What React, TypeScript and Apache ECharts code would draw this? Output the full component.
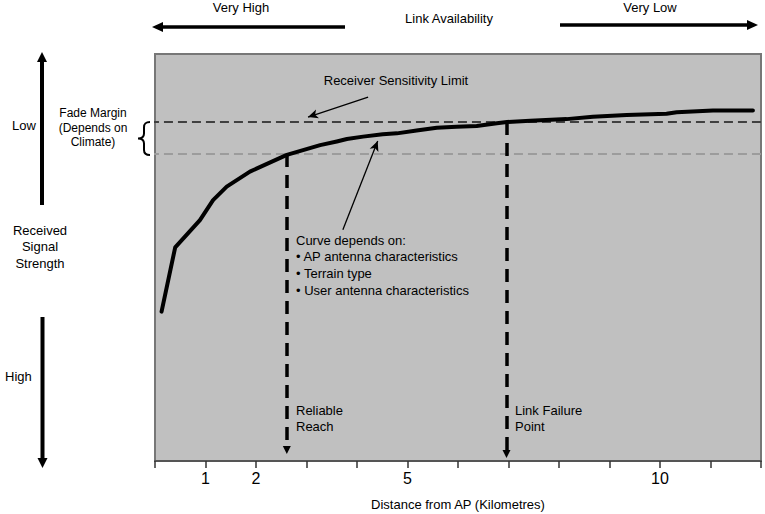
import React, { useEffect, useRef } from "react";
import * as echarts from "echarts";

// ---- data ----
const distanceKm = [0.13, 0.4, 0.89, 1.15, 1.42, 1.88, 2.61, 3.27, 3.6, 3.8, 4.12, 4.51, 4.79, 5.18, 5.58, 5.97, 6.37, 6.77, 6.97, 7.43, 8.15, 8.67, 9.34, 10.13, 10.33, 11.05, 11.84];
const signalLevel = [36.7, 52.5, 59.2, 64.1, 67.4, 71.1, 75.2, 77.6, 78.5, 79.1, 79.7, 80.3, 80.5, 81.2, 81.9, 82.1, 82.3, 83.0, 83.3, 83.6, 84.0, 84.6, 85.0, 85.3, 85.7, 86.1, 86.1];
const sensitivityLevel = 83.3;
const fadeLevel = 75.4;
const reliableReachKm = 2.61;
const linkFailureKm = 6.96;
const labeledKm = [1, 2, 5, 10];
const xMin = 0;
const xMax = 12;

const curveNotes = ["Curve depends on:", "\u2022 AP antenna characteristics", "\u2022 Terrain type", "\u2022 User antenna characteristics"];
const fadeNotes = ["Fade Margin", "(Depends on", "Climate)"];
const signalNotes = ["Received", "Signal", "Strength"];

const FONT = "'Liberation Sans', Arial, Helvetica, sans-serif";

let braceRegistered = false;
function registerBrace() {
  if (braceRegistered) return;
  braceRegistered = true;
  const d =
    "M150,122 C145.5,122 144,123.5 144,127.5 L144,133.5 C144,137 142.5,138.5 138,138.5 C142.5,138.5 144,140 144,143.5 L144,150 C144,153.5 145.5,155 150,155";
  echarts.graphic.registerShape("brace", echarts.graphic.extendPath(d, {}) as any);
}

function txt(text: string, x: number, y: number, align: string, size = 13): any {
  return {
    type: "text",
    x,
    y,
    silent: true,
    style: {
      text,
      fill: "#000",
      fontSize: size,
      fontFamily: FONT,
      align,
      verticalAlign: "middle",
      textAlign: align,
      textVerticalAlign: "middle",
    },
  };
}
function seg(x1: number, y1: number, x2: number, y2: number, w: number): any {
  return { type: "line", silent: true, shape: { x1, y1, x2, y2 }, style: { stroke: "#000", lineWidth: w } };
}
function tri(points: number[][]): any {
  return { type: "polygon", silent: true, shape: { points }, style: { fill: "#000" } };
}

export default function App() {
  const ref = useRef<HTMLDivElement>(null);
  useEffect(() => {
    if (!ref.current) return;
    registerBrace();
    const chart = echarts.init(ref.current, undefined, { renderer: "svg" });

    const graphic: any[] = [
      // top
      txt("Very High", 241, 7, "center"),
      seg(345, 27, 160, 27, 3.5),
      tri([[152, 27], [163, 22], [163, 32]]),
      txt("Link Availability", 449, 18, "center"),
      txt("Very Low", 650, 7, "center"),
      seg(560, 25, 749, 25, 3.5),
      tri([[758, 25], [747, 20], [747, 30]]),
      // left
      txt("Low", 12, 125, "left"),
      seg(42, 205, 42, 60, 4),
      tri([[42, 52], [37, 62], [47, 62]]),
      ...fadeNotes.map((t, i) => txt(t, 93, 113 + i * 14.5, "center", 12)),
      { type: "brace", silent: true, x: 0, y: 0, style: { stroke: "#000", fill: "none", lineWidth: 2 } },
      ...signalNotes.map((t, i) => txt(t, 40, 230 + i * 16.7, "center")),
      txt("High", 5, 376, "left"),
      seg(42.5, 317, 42.5, 460, 4),
      tri([[42.5, 468], [37.5, 458], [47.5, 458]]),
      // in-plot notes
      txt("Receiver Sensitivity Limit", 396, 80, "center"),
      ...curveNotes.map((t, i) => txt(t, 296, 240 + i * 16.7, "left")),
      txt("Reliable", 296, 410, "left"),
      txt("Reach", 296, 426, "left"),
      txt("Link Failure", 515, 410, "left"),
      txt("Point", 515, 426, "left"),
    ];

    const option: any = {
      animation: false,
      backgroundColor: "#fff",
      textStyle: { fontFamily: FONT },
      grid: {
        left: 155,
        right: 4,
        top: 54,
        bottom: 53,
        show: true,
        outerBoundsMode: "none",
        containLabel: false,
        backgroundColor: "#c0c0c0",
        borderColor: "#777",
        borderWidth: 2,
      },
      xAxis: {
        type: "value",
        min: xMin,
        max: xMax,
        interval: 1,
        name: "Distance from AP (Kilometres)",
        nameLocation: "middle",
        nameGap: 37,
        nameTextStyle: { fontSize: 13, color: "#000", fontFamily: FONT },
        axisLine: { show: true, lineStyle: { color: "#555", width: 2 } },
        axisTick: { show: true, length: 7, lineStyle: { color: "#333", width: 1.5 } },
        axisLabel: {
          fontSize: 16,
          color: "#000",
          margin: 9,
          fontFamily: FONT,
          formatter: (v: number) => (labeledKm.includes(v) ? String(v) : ""),
        },
        splitLine: { show: false },
      },
      yAxis: {
        type: "value",
        min: 0,
        max: 100,
        show: false,
        splitLine: { show: false },
      },
      graphic,
      series: [
        {
          type: "line",
          data: [[xMin - 0.1, sensitivityLevel], [xMax + 0.1, sensitivityLevel]],
          clip: false,
          showSymbol: false,
          silent: true,
          z: 2,
          lineStyle: { color: "#404040", width: 2, type: [9, 5] },
        },
        {
          type: "line",
          data: [[xMin - 0.1, fadeLevel], [xMax + 0.1, fadeLevel]],
          clip: false,
          showSymbol: false,
          silent: true,
          z: 2,
          lineStyle: { color: "#9c9c9c", width: 2, type: [9, 5] },
        },
        {
          type: "line",
          data: [],
          silent: true,
          z: 3,
          markLine: {
            silent: true,
            animation: false,
            symbol: ["none", "triangle"],
            symbolSize: [8, 8],
            label: { show: false },
            emphasis: { disabled: true },
            lineStyle: { color: "#000", width: 3.5, type: [13, 8] },
            data: [
              [{ coord: [reliableReachKm, fadeLevel] }, { coord: [reliableReachKm, 2.7] }],
              [{ coord: [linkFailureKm, sensitivityLevel] }, { coord: [linkFailureKm, 1.7] }],
            ],
          },
        },
        {
          type: "line",
          data: [],
          silent: true,
          z: 4,
          markLine: {
            silent: true,
            animation: false,
            symbol: ["none", "arrow"],
            symbolSize: [7, 10],
            label: { show: false },
            emphasis: { disabled: true },
            lineStyle: { color: "#000", width: 1.3, type: "solid" },
            data: [
              [{ coord: [4.22, 89.4] }, { coord: [3.03, 84.5] }],
              [{ coord: [3.72, 56.8] }, { coord: [4.41, 78.6] }],
            ],
          },
        },
        {
          type: "line",
          data: distanceKm.map((x, i) => [x, signalLevel[i]]),
          showSymbol: false,
          silent: true,
          z: 5,
          lineStyle: { color: "#000", width: 4, join: "round", cap: "round" },
        },
      ],
    };
    chart.setOption(option);
    return () => chart.dispose();
  }, []);

  return (
    <div
      ref={ref}
      style={{ position: "fixed", left: 0, top: 0, width: 765, height: 514, background: "#fff" }}
    />
  );
}
